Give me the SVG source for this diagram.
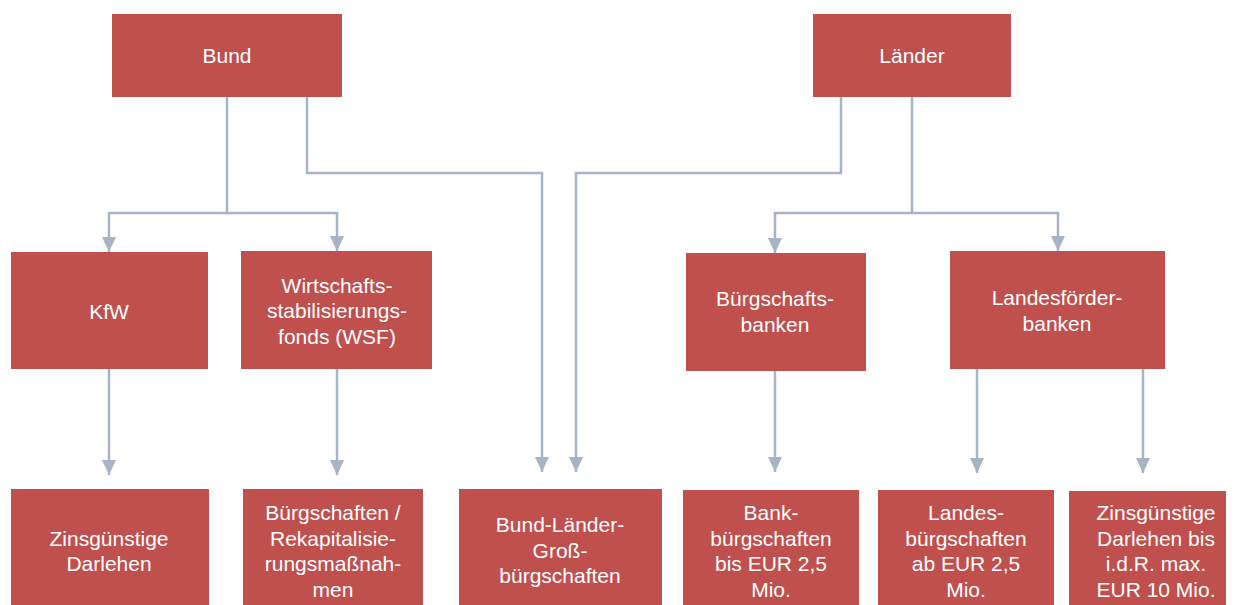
<svg xmlns="http://www.w3.org/2000/svg" width="1236" height="605" viewBox="0 0 1236 605">
<style>
.box{fill:#C0504D;}
.t{font-family:"Liberation Sans",Arial,sans-serif;font-size:21px;fill:#FFFFFF;text-anchor:middle;}
.c{fill:none;stroke:#A6B4C6;stroke-width:2.5;marker-end:url(#ah);}
</style>
<defs>
<marker id="ah" markerUnits="userSpaceOnUse" markerWidth="16" markerHeight="16" refX="15" refY="7" orient="auto">
<path d="M0,0 L15,7 L0,14 z" fill="#A6B4C6"/>
</marker>
</defs>
<rect width="1236" height="605" fill="#FFFFFF"/>
<g id="connectors">
<path class="c" d="M227,97 V213 H109 V252"/>
<path class="c" d="M227,213 H337 V251"/>
<path class="c" d="M307,97 V173 H542 V472"/>
<path class="c" d="M841,97 V173 H576 V472"/>
<path class="c" d="M912,97 V213 H775 V253"/>
<path class="c" d="M912,213 H1058 V251"/>
<path class="c" d="M109,369 V475"/>
<path class="c" d="M337,369 V475"/>
<path class="c" d="M775,371 V472"/>
<path class="c" d="M977,369 V473"/>
<path class="c" d="M1143,369 V473"/>
</g>
<g id="bund"><rect class="box" x="112" y="14" width="230" height="83"/><text class="t" x="227" y="63">Bund</text></g>
<g id="laender"><rect class="box" x="813" y="14" width="198" height="83"/><text class="t" x="912" y="63">Länder</text></g>
<g id="kfw"><rect class="box" x="11" y="252" width="197" height="117"/><text class="t" x="109" y="319">KfW</text></g>
<g id="wsf"><rect class="box" x="241" y="251" width="191" height="118"/><text class="t" x="337" y="292.5">Wirtschafts-</text><text class="t" x="337" y="318">stabilisierungs-</text><text class="t" x="337" y="343.5">fonds (WSF)</text></g>
<g id="buergschaftsbanken"><rect class="box" x="686" y="253" width="180" height="118"/><text class="t" x="775" y="306">Bürgschafts-</text><text class="t" x="775" y="331.5">banken</text></g>
<g id="landesfoerderbanken"><rect class="box" x="950" y="251" width="215" height="118"/><text class="t" x="1057" y="305">Landesförder-</text><text class="t" x="1057" y="330.5">banken</text></g>
<g id="zinsdarlehen"><rect class="box" x="11" y="489" width="198" height="116"/><text class="t" x="109" y="546">Zinsgünstige</text><text class="t" x="109" y="571">Darlehen</text></g>
<g id="rekap"><rect class="box" x="243" y="489" width="180" height="116"/><text class="t" x="333" y="520">Bürgschaften /</text><text class="t" x="333" y="545.5">Rekapitalisie-</text><text class="t" x="333" y="571">rungsmaßnah-</text><text class="t" x="333" y="596.5">men</text></g>
<g id="grossbuergschaften"><rect class="box" x="459" y="489" width="203" height="116"/><text class="t" x="560" y="532">Bund-Länder-</text><text class="t" x="560" y="557.5">Groß-</text><text class="t" x="560" y="583">bürgschaften</text></g>
<g id="bankbuergschaften"><rect class="box" x="683" y="490" width="176" height="115"/><text class="t" x="771" y="520">Bank-</text><text class="t" x="771" y="545.5">bürgschaften</text><text class="t" x="771" y="571">bis EUR 2,5</text><text class="t" x="771" y="596.5">Mio.</text></g>
<g id="landesbuergschaften"><rect class="box" x="878" y="490" width="176" height="115"/><text class="t" x="966" y="520">Landes-</text><text class="t" x="966" y="545.5">bürgschaften</text><text class="t" x="966" y="571">ab EUR 2,5</text><text class="t" x="966" y="596.5">Mio.</text></g>
<g id="zinsdarlehenbis"><rect class="box" x="1069" y="491" width="157" height="114"/><text class="t" x="1156" y="520">Zinsgünstige</text><text class="t" x="1156" y="545.5">Darlehen bis</text><text class="t" x="1156" y="571">i.d.R. max.</text><text class="t" x="1156" y="596.5">EUR 10 Mio.</text></g>
</svg>
